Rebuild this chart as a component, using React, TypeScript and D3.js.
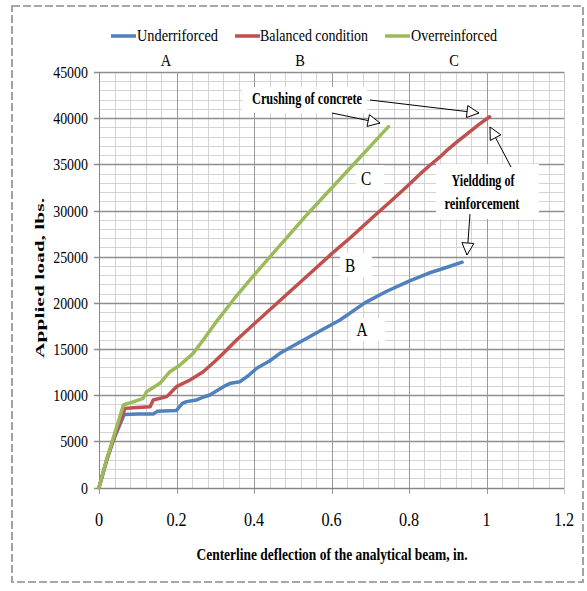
import React from 'react';
import * as d3 from 'd3';

// ---------- data ----------
const underX = [0, 0.02, 0.037, 0.065, 0.1, 0.14, 0.15, 0.2, 0.215, 0.226, 0.252, 0.27, 0.286, 0.321, 0.34, 0.364, 0.385, 0.407, 0.44, 0.467, 0.519, 0.57, 0.622, 0.686, 0.74, 0.8, 0.85, 0.9, 0.937];
const underY = [0, 2980, 5140, 7900, 7950, 7950, 8250, 8350, 9100, 9300, 9480, 9800, 10020, 10920, 11300, 11460, 12100, 12910, 13700, 14530, 15760, 16950, 18140, 20000, 21200, 22360, 23200, 23880, 24400];

const balancedX = [0, 0.02, 0.04, 0.067, 0.09, 0.132, 0.14, 0.175, 0.2, 0.235, 0.269, 0.3, 0.321, 0.355, 0.4, 0.45, 0.5, 0.55, 0.6, 0.65, 0.708, 0.75, 0.794, 0.83, 0.854, 0.88, 0.9, 0.923, 0.95, 0.98, 1.008];
const balancedY = [0, 3000, 5500, 8570, 8650, 8750, 9480, 9840, 10920, 11640, 12540, 13700, 14530, 15970, 17700, 19600, 21500, 23400, 25300, 27100, 29330, 30900, 32580, 34000, 34900, 35800, 36600, 37400, 38300, 39300, 40150];

const overX = [0, 0.02, 0.04, 0.063, 0.09, 0.114, 0.123, 0.157, 0.183, 0.209, 0.243, 0.269, 0.3, 0.35, 0.4, 0.45, 0.5, 0.532, 0.58, 0.622, 0.674, 0.71, 0.747];
const overY = [0, 3100, 5800, 8935, 9300, 9660, 10380, 11280, 12540, 13270, 14530, 15970, 17800, 20500, 23000, 25400, 27800, 29330, 31510, 33410, 35770, 37400, 39080];

const seriesNames = ['Underriforced', 'Balanced condition', 'Overreinforced'];
const seriesColors = ['#4F81BD', '#C0504D', '#9BBB59'];
const xTickValues = [0, 0.2, 0.4, 0.6, 0.8, 1, 1.2];
const xTickLabels = ['0', '0.2', '0.4', '0.6', '0.8', '1', '1.2'];
const yTickValues = [0, 5000, 10000, 15000, 20000, 25000, 30000, 35000, 40000, 45000];
const yTickLabels = ['0', '5000', '10000', '15000', '20000', '25000', '30000', '35000', '40000', '45000'];
const topLabels = ['A', 'B', 'C'];
const xTitle = 'Centerline deflection of the analytical beam, in.';
const yTitle = 'Applied load, lbs.';

const FONT = "'Liberation Serif', 'DejaVu Serif', 'Times New Roman', serif";

export default function App() {
  const x = d3.scaleLinear().domain([0, 1.2]).range([99, 564]);
  const y = d3.scaleLinear().domain([0, 45000]).range([487.5, 72]);
  const crisp = (v: number) => Math.round(v) + 0.5;

  const minorX = d3.range(0, 1.2001, 0.04);
  const minorY = d3.range(0, 45001, 1000);

  const line = d3.line<[number, number]>().x(d => x(d[0])).y(d => y(d[1]));
  const series: [number[], number[]][] = [[underX, underY], [balancedX, balancedY], [overX, overY]];

  const arrowHead = (x1: number, y1: number, x2: number, y2: number, len = 12, hw = 6) => {
    const a = Math.atan2(y2 - y1, x2 - x1);
    const bx = x2 - len * Math.cos(a), by = y2 - len * Math.sin(a);
    const px = -Math.sin(a) * hw, py = Math.cos(a) * hw;
    return `M${x2},${y2}L${bx + px},${by + py}L${bx - px},${by - py}Z`;
  };
  const arrows = [
    [370, 100, 479, 113],
    [332, 113, 380, 123],
    [511, 167, 490, 127],
    [470, 214, 467, 255],
  ];

  const legendLayout = [
    { lx: 111, tx: 137, len: 81 },
    { lx: 235, tx: 260, len: 108 },
    { lx: 385, tx: 411, len: 86 },
  ];
  const ts = { fontFamily: FONT } as React.CSSProperties;

  return (
    <svg width={587} height={591} style={{ position: 'absolute', left: 0, top: 0, background: '#fff', fontFamily: FONT }}>
      <rect x={0} y={0} width={587} height={591} fill="#fff" />
      {/* dashed outer border */}
      <rect x={12} y={6} width={571} height={576} fill="none" stroke="#8c8c8c" strokeWidth={1.6} strokeDasharray="8 3" />

      {/* minor grid */}
      {minorY.map((v, i) => (
        <line key={'my' + i} x1={99} x2={564} y1={crisp(y(v))} y2={crisp(y(v))} stroke="#d3d3d3" strokeWidth={1} />
      ))}
      {minorX.map((v, i) => (
        <line key={'mx' + i} x1={crisp(x(v))} x2={crisp(x(v))} y1={72} y2={488} stroke="#d3d3d3" strokeWidth={1} />
      ))}
      {/* major grid */}
      {yTickValues.map((v, i) => (
        <line key={'My' + i} x1={94} x2={564} y1={crisp(y(v))} y2={crisp(y(v))} stroke="#8e8e8e" strokeWidth={1.3} />
      ))}
      {xTickValues.map((v, i) => (
        <line key={'Mx' + i} x1={crisp(x(v))} x2={crisp(x(v))} y1={72} y2={494} stroke={i === 6 ? '#c8c8c8' : '#9a9a9a'} strokeWidth={1} />
      ))}
      {/* axes */}
      <line x1={99.5} x2={99.5} y1={72} y2={488} stroke="#868686" strokeWidth={1} />
      <line x1={99} x2={564} y1={crisp(y(0))} y2={crisp(y(0))} stroke="#868686" strokeWidth={1} />

      {/* white label boxes */}
      <rect x={242} y={87} width={125} height={26} fill="#fff" />
      <rect x={356} y={165} width={28} height={27} fill="#fff" />
      <rect x={340} y={253} width={32} height={24} fill="#fff" />
      <rect x={350} y={318} width={35} height={23} fill="#fff" />
      <rect x={436} y={164} width={103} height={55} fill="#fff" />

      {/* series */}
      {series.map(([xs, ys], i) => (
        <path key={'s' + i} d={line(xs.map((v, j) => [v, ys[j]]) as [number, number][]) || ''} fill="none" stroke={seriesColors[i]} strokeWidth={3.5} strokeLinejoin="round" strokeLinecap="round" />
      ))}

      {/* y tick labels */}
      {yTickValues.map((v, i) => (
        <text key={'yl' + i} style={ts} transform={`translate(88,${y(v) + 6}) scale(0.82,1)`} textAnchor="end" fontSize={17} fill="#000">{yTickLabels[i]}</text>
      ))}
      {/* x tick labels */}
      {xTickValues.map((v, i) => (
        <text key={'xl' + i} style={ts} transform={`translate(${x(v)},${526}) scale(0.9,1)`} textAnchor="middle" fontSize={18} fill="#000">{xTickLabels[i]}</text>
      ))}

      {/* axis titles */}
      <text style={ts} x={332} y={560} textAnchor="middle" fontSize={17} fontWeight="bold" textLength={271} lengthAdjust="spacingAndGlyphs">{xTitle}</text>
      <text style={ts} transform="translate(44,278) scale(0.65,1) rotate(-90)" textAnchor="middle" fontSize={20} fontWeight="bold" textLength={160} lengthAdjust="spacingAndGlyphs">{yTitle}</text>

      {/* legend */}
      {seriesNames.map((n, i) => (
        <g key={'lg' + i}>
          <line x1={legendLayout[i].lx} x2={legendLayout[i].lx + 25} y1={36} y2={36} stroke={seriesColors[i]} strokeWidth={3.5} />
          <text style={ts} x={legendLayout[i].tx} y={41} fontSize={16} textLength={legendLayout[i].len} lengthAdjust="spacingAndGlyphs">{n}</text>
        </g>
      ))}

      {/* top labels */}
      {topLabels.map((t, i) => (
        <text key={'tl' + i} style={ts} transform={`translate(${[166, 300, 454][i]},66) scale(0.85,1)`} textAnchor="middle" fontSize={17}>{t}</text>
      ))}
      {/* in-plot labels */}
      <text style={ts} transform="translate(366,185) scale(0.85,1)" textAnchor="middle" fontSize={18}>C</text>
      <text style={ts} transform="translate(350,272) scale(0.85,1)" textAnchor="middle" fontSize={18}>B</text>
      <text style={ts} transform="translate(362,336) scale(0.85,1)" textAnchor="middle" fontSize={18}>A</text>

      {/* annotations */}
      <text style={ts} x={252} y={104} fontSize={17} fontWeight="bold" textLength={110} lengthAdjust="spacingAndGlyphs">Crushing of concrete</text>
      <text style={ts} x={483} y={186} textAnchor="middle" fontSize={17} fontWeight="bold" textLength={63} lengthAdjust="spacingAndGlyphs">Yieldding of</text>
      <text style={ts} x={482} y={209} textAnchor="middle" fontSize={17} fontWeight="bold" textLength={75} lengthAdjust="spacingAndGlyphs">reinforcement</text>
      {arrows.map(([x1, y1, x2, y2], i) => (
        <g key={'ar' + i}>
          <line x1={x1} y1={y1} x2={x2} y2={y2} stroke="#000" strokeWidth={1} />
          <path d={arrowHead(x1, y1, x2, y2)} fill="#fff" stroke="#000" strokeWidth={1} />
        </g>
      ))}
    </svg>
  );
}
